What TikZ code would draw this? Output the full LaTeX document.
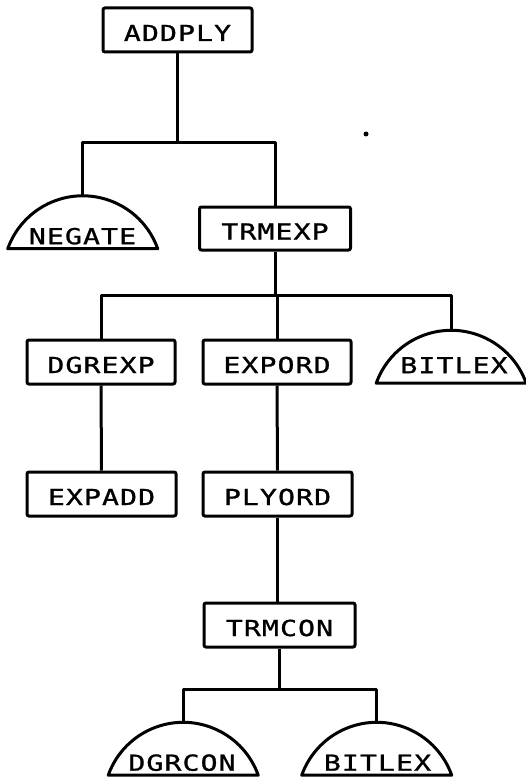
\documentclass[tikz,border=0pt]{standalone}
\usepackage{fontspec}
\newfontfamily\plotfont[FakeStretch=1.28,LetterSpace=5,FakeBold=1.2]{DejaVu Sans Mono}
\begin{document}
\begin{tikzpicture}[x=1pt,y=1pt,
  box/.style={draw, line width=3pt, rectangle, rounded corners=2pt, minimum width=149pt, minimum height=44pt, inner sep=0pt, text height=22pt, text depth=0pt, font=\plotfont\fontsize{22}{22}\selectfont},
  domebox/.style={rectangle, minimum width=150pt, minimum height=53pt, inner sep=0pt},
  domeline/.style={draw, line width=3pt, line join=round},
  dometext/.style={anchor=base, inner sep=0pt, font=\plotfont\fontsize{22}{22}\selectfont},
  link/.style={draw, line width=3pt, line join=round}
]
\useasboundingbox (0,0) rectangle (525,-778);

% rectangular nodes
\node[box] (addply) at (177.5,-30) {ADDPLY};
\node[box, minimum width=151pt, minimum height=43pt] (trmexp) at (275,-228.5) {TRMEXP};
\node[box, minimum width=148pt] (dgrexp) at (101,-362) {DGREXP};
\node[box, minimum width=148pt] (expord) at (277,-362) {EXPORD};
\node[box] (expadd) at (101.5,-494) {EXPADD};
\node[box] (plyord) at (277.5,-494) {PLYORD};
\node[box, minimum width=151pt] (trmcon) at (279.5,-625) {TRMCON};

% dome nodes
\node[domebox] (negate) at (82.5,-222) {};
\node[domebox] (bitlexa) at (451,-356.5) {};
\node[domebox] (dgrcon) at (183,-748.5) {};
\node[domebox] (bitlexb) at (376.5,-748.5) {};

\foreach \d in {negate,bitlexa,dgrcon,bitlexb}{
  \draw[domeline] (\d.south east) arc[start angle=19.6, end angle=160.4, radius=79.6pt] -- cycle;
}

\node[dometext] (negatet) at ([yshift=4.5pt]negate.south) {NEGATE};
\node[dometext] (bitlexat) at ([xshift=3pt,yshift=10pt]bitlexa.south) {BITLEX};
\node[dometext] (dgrcont) at ([xshift=-1pt,yshift=4.5pt]dgrcon.south) {DGRCON};
\node[dometext] (bitlexbt) at ([xshift=1pt,yshift=4.5pt]bitlexb.south) {BITLEX};

% bar levels
\coordinate (b1) at (0,-143);
\coordinate (b2) at (0,-295);
\coordinate (b3) at (0,-689);

% connectors
\draw[link] (addply.south) -- (addply.south |- b1);
\draw[link] (negate.north) -- (negate.north |- b1) -- (trmexp.north |- b1) -- (trmexp.north);

\draw[link] (trmexp.south) -- (trmexp.south |- b2);
\draw[link] (dgrexp.north) -- (dgrexp.north |- b2) -- (bitlexa.north |- b2) -- (bitlexa.north);
\draw[link] (expord.north |- b2) -- (expord.north);

\draw[link] (dgrexp.south) -- (expadd.north);
\draw[link] (expord.south) -- (plyord.north);
\draw[link] (plyord.south) -- (plyord.south |- trmcon.north);

\draw[link] (trmcon.south) -- (trmcon.south |- b3);
\draw[link] (dgrcon.north) -- (dgrcon.north |- b3) -- (bitlexb.north |- b3) -- (bitlexb.north);

% speck
\fill (366,-134) circle (2.5pt);
\end{tikzpicture}
\end{document}
